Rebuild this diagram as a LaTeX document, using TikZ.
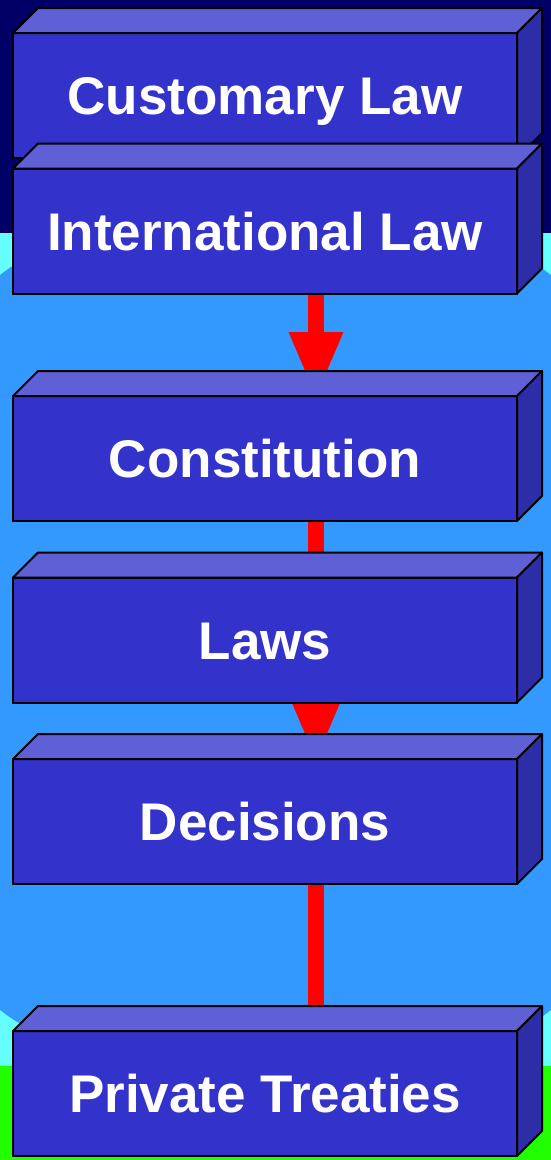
\documentclass[tikz,border=0pt]{standalone}
\usepackage{fontspec}
\setmainfont{Liberation Sans}
\usetikzlibrary{arrows.meta,backgrounds}
\definecolor{navytop}{HTML}{000066}
\definecolor{skycyan}{HTML}{66FFFF}
\definecolor{lawngreen}{HTML}{22FF00}
\definecolor{midblue}{HTML}{3399FF}
\definecolor{boxfront}{HTML}{3333CC}
\definecolor{boxtop}{HTML}{5F5FD6}
\definecolor{boxside}{HTML}{2D2DA8}

\begin{document}
\begin{tikzpicture}[x=1pt,y=-1pt,
		lawbox/.style={draw=black,line width=2pt,fill=boxfront,text=white,
			font=\fontsize{53}{60}\selectfont\bfseries,
			minimum width=504pt,minimum height=125pt,
			text height=38pt,text depth=0pt,inner sep=0pt,outer sep=0pt},
		topface/.style={draw=black,line width=2pt,fill=boxtop,line join=round},
		sideface/.style={draw=black,line width=2pt,fill=boxside,line join=round},
		flow/.style={draw=red,line width=16pt}]
		\useasboundingbox (0,0) rectangle (551,1160);
		% the six boxes
		\foreach \y/\nm/\txt in {95.5/cust/Customary Law,231/intl/International Law,458.5/const/Constitution,640/laws/Laws,821.5/dec/Decisions,1093.5/priv/Private Treaties}{
			\node [lawbox] (\nm) at (265,\y) {\txt};
			\draw [topface] (\nm.north west) -- ++(25,-25) -- ([shift={(25,-25)}]\nm.north east) -- (\nm.north east) -- cycle;
			\draw [sideface] (\nm.north east) -- ++(25,-25) -- ([shift={(25,-25)}]\nm.south east) -- (\nm.south east) -- cycle;
		}
		\begin{scope}[on background layer]
			\fill [navytop] (0,0) rectangle (551,233);
			\fill [skycyan] (0,233) rectangle (551,1066);
			\fill [lawngreen] (0,1066) rectangle (551,1160);
			\begin{scope}
				\clip (0,0) rectangle (551,1160);
				\fill [midblue, rounded corners=160pt] (-60,240) rectangle (611,1045);
			\end{scope}
			% red arrows behind the boxes
			\draw [flow,-{Triangle[length=64pt,width=55pt,line width=0pt]}] ([xshift=51pt]intl.south) -- ([xshift=51pt]const.north);
			\draw [flow,-{Triangle[length=64pt,width=55pt,line width=0pt]}] ([xshift=51pt]const.south) -- ([xshift=51pt]dec.north);
			\draw [flow] ([xshift=51pt]dec.south) -- ([xshift=51pt]priv.north);
		\end{scope}
	\end{tikzpicture}
\end{document}
